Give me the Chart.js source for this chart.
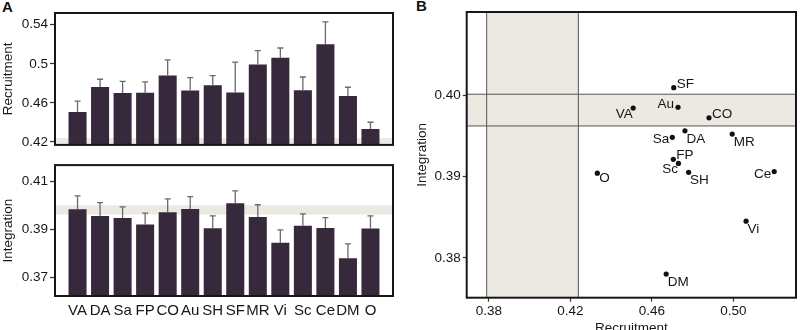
<!DOCTYPE html>
<html>
<head>
<meta charset="utf-8">
<script src="https://cdn.jsdelivr.net/npm/chart.js@4.4.0/dist/chart.umd.min.js"></script>
<style>
html, body { margin: 0; padding: 0; background: #fff; width: 800px; height: 330px; overflow: hidden; }
.box { position: absolute; }
.tag { position: absolute; font: bold 15px "Liberation Sans", Arial, sans-serif; color: #111; }
</style>
</head>
<body>
<div class="tag" style="left:2px;top:-2px">A</div>
<div class="tag" style="left:416px;top:-3px">B</div>
<div class="box" style="left:0;top:0;width:400px;height:155px"><canvas id="recChart"></canvas></div>
<div class="box" style="left:0;top:155px;width:400px;height:175px"><canvas id="intChart"></canvas></div>
<div class="box" style="left:400px;top:0;width:400px;height:345px"><canvas id="scatterChart"></canvas></div>
<script>
// data
const categories = ["VA", "DA", "Sa", "FP", "CO", "Au", "SH", "SF", "MR", "Vi", "Sc", "Ce", "DM", "O"];
const recruitment = [0.4508, 0.4762, 0.470, 0.4705, 0.488, 0.4728, 0.478, 0.4707, 0.4994, 0.5062, 0.473, 0.520, 0.467, 0.4332];
const recruitmentErr = [0.011, 0.008, 0.012, 0.011, 0.016, 0.013, 0.010, 0.031, 0.014, 0.010, 0.0135, 0.023, 0.009, 0.007];
const integration = [0.3984, 0.3956, 0.3948, 0.3921, 0.3972, 0.3985, 0.3905, 0.4009, 0.3952, 0.3845, 0.3916, 0.3906, 0.378, 0.3904];
const integrationErr = [0.0056, 0.0056, 0.0046, 0.0047, 0.0055, 0.0052, 0.0052, 0.0052, 0.0051, 0.0053, 0.0049, 0.0043, 0.006, 0.0053];

// shaded reference ranges
const recruitmentBand = [0.3789, 0.4239];
const integrationBand = [0.3962, 0.4001];

// tick values + labels
const recTicks = [0.42, 0.46, 0.50, 0.54];
const recTickLabels = ["0.42", "0.46", "0.5", "0.54"];
const intTicks = [0.37, 0.39, 0.41];
const intTickLabels = ["0.37", "0.39", "0.41"];
const scatterXTicks = [0.38, 0.42, 0.46, 0.50];
const scatterXLabels = ["0.38", "0.42", "0.46", "0.50"];
const scatterYTicks = [0.38, 0.39, 0.40];
const scatterYLabels = ["0.38", "0.39", "0.40"];

// where each point label sits relative to its dot
const labelSide = ["sw", "se", "w", "ne", "ne", "nw", "se", "ne", "se", "se", "sw", "w", "se", "e"];

const FONT = '"Liberation Sans", Arial, sans-serif';
const BAR = "#35293b";
const BAND = "#ece8e2";
const INK = "#161616";

Chart.defaults.font.family = FONT;
Chart.defaults.color = INK;

const bands = {
  id: "bands",
  beforeDatasetsDraw(chart, args, opts) {
    const { ctx, chartArea: a, scales } = chart;
    ctx.save();
    ctx.beginPath();
    ctx.rect(a.left, a.top, a.width, a.height);
    ctx.clip();
    ctx.fillStyle = BAND;
    let xs = null, ys = null;
    if (opts.x) {
      xs = opts.x.map(v => scales.x.getPixelForValue(v));
      ctx.fillRect(xs[0], a.top, xs[1] - xs[0], a.height);
    }
    if (opts.y) {
      ys = opts.y.map(v => scales.y.getPixelForValue(v));
      ctx.fillRect(a.left, ys[1], a.width, ys[0] - ys[1]);
    }
    if (opts.lines) {
      ctx.strokeStyle = "#555";
      ctx.lineWidth = 1;
      ctx.beginPath();
      if (xs) xs.forEach(x => { ctx.moveTo(x, a.top); ctx.lineTo(x, a.bottom); });
      if (ys) ys.forEach(y => { ctx.moveTo(a.left, y); ctx.lineTo(a.right, y); });
      ctx.stroke();
    }
    ctx.restore();
  }
};

const errorBars = {
  id: "errorBars",
  afterDatasetsDraw(chart, args, opts) {
    const { ctx } = chart;
    const y = chart.scales.y;
    const ds = chart.data.datasets[0];
    ctx.save();
    ctx.strokeStyle = "#6a6a6a";
    ctx.lineWidth = 1.3;
    chart.getDatasetMeta(0).data.forEach((bar, i) => {
      const top = y.getPixelForValue(ds.data[i].y + opts.values[i]);
      ctx.beginPath();
      ctx.moveTo(bar.x, bar.y);
      ctx.lineTo(bar.x, top);
      ctx.moveTo(bar.x - 3, top);
      ctx.lineTo(bar.x + 3, top);
      ctx.stroke();
    });
    ctx.restore();
  }
};

const frame = {
  id: "frame",
  afterDraw(chart) {
    const { ctx, chartArea: a } = chart;
    ctx.save();
    ctx.strokeStyle = INK;
    ctx.lineWidth = 2;
    ctx.strokeRect(a.left, a.top, a.width, a.height);
    ctx.restore();
  }
};

const anchors = {
  ne: [3, 0, "left"],
  nw: [-4, 1, "right"],
  sw: [-0.5, 10, "right"],
  se: [1.5, 12, "left"],
  w: [-3, 6, "right"],
  e: [2, 9, "left"]
};

const pointLabels = {
  id: "pointLabels",
  afterDatasetsDraw(chart) {
    const { ctx } = chart;
    ctx.save();
    ctx.font = "13.5px " + FONT;
    ctx.fillStyle = INK;
    ctx.textBaseline = "alphabetic";
    chart.getDatasetMeta(0).data.forEach((pt, i) => {
      const [dx, dy, align] = anchors[labelSide[i]];
      ctx.textAlign = align;
      ctx.fillText(categories[i], pt.x + dx, pt.y + dy);
    });
    ctx.restore();
  }
};

function yAxis(min, max, ticks, labels, title, width, tickLen, titlePad) {
  return {
    min, max, beginAtZero: false,
    afterFit(s) { s.width = width; },
    afterBuildTicks(s) { s.ticks = ticks.map(v => ({ value: v })); },
    ticks: { callback: (v, i) => labels[i], padding: 2, font: { size: 13.5 }, color: INK },
    grid: { drawOnChartArea: false, tickLength: tickLen, tickColor: "#333", tickWidth: 1.2 },
    border: { display: false },
    title: { display: true, text: title, font: { size: 13.5 }, color: INK, padding: { top: titlePad, bottom: 0 } }
  };
}

function barDataset(values) {
  return {
    data: values.map((v, i) => ({ x: i + 1, y: v })),
    backgroundColor: BAR,
    borderWidth: 0,
    barPercentage: 0.8,
    categoryPercentage: 1
  };
}

// A, top: recruitment bars
new Chart(document.getElementById("recChart"), {
  type: "bar",
  data: { datasets: [barDataset(recruitment)] },
  options: {
    responsive: true, maintainAspectRatio: false, animation: false,
    layout: { padding: { top: 13, right: 7, bottom: 4, left: 0 } },
    plugins: {
      legend: { display: false }, tooltip: { enabled: false },
      bands: { y: recruitmentBand },
      errorBars: { values: recruitmentErr }
    },
    scales: {
      x: { type: "linear", min: 0, max: 15, offset: false, display: false },
      y: yAxis(0.417, 0.552, recTicks, recTickLabels, "Recruitment", 55, 5, 0)
    }
  },
  plugins: [bands, errorBars, frame]
});

// A, bottom: integration bars
new Chart(document.getElementById("intChart"), {
  type: "bar",
  data: { datasets: [barDataset(integration)] },
  options: {
    responsive: true, maintainAspectRatio: false, animation: false,
    layout: { padding: { top: 1, right: 7, bottom: 0, left: 0 } },
    plugins: {
      legend: { display: false }, tooltip: { enabled: false },
      bands: { y: integrationBand },
      errorBars: { values: integrationErr }
    },
    scales: {
      x: {
        type: "linear", min: 0, max: 15, offset: false,
        afterFit(s) { s.height = 34; },
        afterBuildTicks(s) { s.ticks = categories.map((c, i) => ({ value: i + 1 })); },
        ticks: { callback: (v, i) => categories[i], autoSkip: false, maxRotation: 0, padding: 6, font: { size: 15 }, color: INK },
        grid: { display: false, drawTicks: false },
        border: { display: false }
      },
      y: yAxis(0.3623, 0.4168, intTicks, intTickLabels, "Integration", 55, 5, 0)
    }
  },
  plugins: [bands, errorBars, frame]
});

// B: recruitment vs integration
new Chart(document.getElementById("scatterChart"), {
  type: "scatter",
  data: {
    datasets: [{
      data: recruitment.map((r, i) => ({ x: r, y: integration[i] })),
      pointRadius: 2.6,
      pointBackgroundColor: "#111",
      pointBorderWidth: 0
    }]
  },
  options: {
    responsive: true, maintainAspectRatio: false, animation: false,
    layout: { padding: { top: 12, right: 3.3, bottom: 0, left: 0 } },
    plugins: {
      legend: { display: false }, tooltip: { enabled: false },
      bands: { x: recruitmentBand, y: integrationBand, lines: true }
    },
    scales: {
      x: {
        type: "linear", min: 0.3691, max: 0.5307,
        afterFit(s) { s.height = 47.3; },
        afterBuildTicks(s) { s.ticks = scatterXTicks.map(v => ({ value: v })); },
        ticks: { callback: (v, i) => scatterXLabels[i], padding: 1, font: { size: 13.5 }, color: INK, maxRotation: 0 },
        grid: { drawOnChartArea: false, tickLength: 4, tickColor: "#333", tickWidth: 1.2 },
        border: { display: false },
        title: { display: true, text: "Recruitment", font: { size: 13.5 }, color: INK, padding: { top: 0, bottom: 8.5 } }
      },
      y: yAxis(0.3751, 0.4102, scatterYTicks, scatterYLabels, "Integration", 66.7, 4, 14)
    }
  },
  plugins: [bands, pointLabels, frame]
});
</script>
</body>
</html>
